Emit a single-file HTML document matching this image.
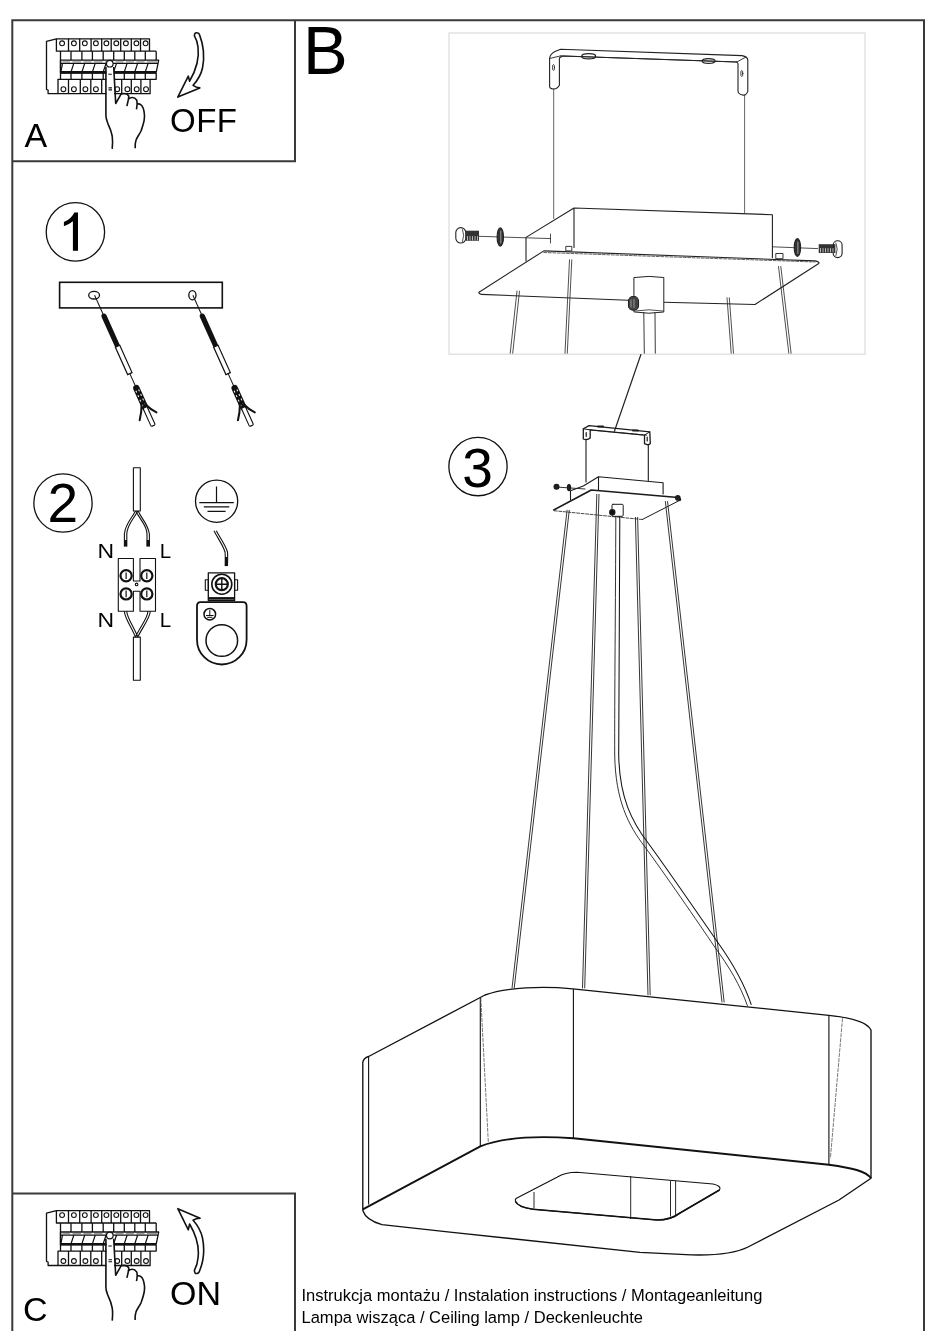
<!DOCTYPE html>
<html><head><meta charset="utf-8">
<style>
html,body{margin:0;padding:0;background:#fff;width:940px;height:1331px;overflow:hidden}
svg{display:block;will-change:transform}
text{font-family:"Liberation Sans",sans-serif;fill:#000}
</style></head><body>
<svg width="940" height="1331" viewBox="0 0 940 1331">
<g id="frame" fill="none" stroke="#3a3a3a" stroke-width="2">
<path d="M12.3 1331V20.2H924V1331"/>
<path d="M12.3 161.2H295V20.2"/>
<path d="M12.3 1193.5H295V1331"/>
</g>
<!-- inset box -->
<rect x="449" y="33" width="416" height="321.2" fill="none" stroke="#e0e0e0" stroke-width="1.4"/>
<g fill="none" stroke="#222" stroke-width="1.1" stroke-linejoin="round" stroke-linecap="round">
<!-- bracket top -->
<path d="M553.7 89V218.5M744.6 95V212.9" stroke="#555" stroke-width="0.9"/>
<path d="M549.6 86.5V58.5Q550 54 555 51.5L560.6 49.3L742 55.6Q747.8 57 747.8 60V91.4Q746 96 742.5 95Q738 94 738 91V63.5L736.8 62L562.5 56L559.4 58V85.3Q557 89.5 553 89Q549.6 88.5 549.6 86.5Z"/>
<path d="M560.6 55.9L736.8 62M549.6 58.5L560.6 55.9M736.8 62L746 57" stroke-width="0.9"/>
<ellipse cx="553.5" cy="67.5" rx="1" ry="3" stroke-width="0.9"/>
<ellipse cx="741.8" cy="73.5" rx="1" ry="3" stroke-width="0.9"/>
<ellipse cx="588.7" cy="56.3" rx="7" ry="2.6" stroke-width="1.2"/>
<ellipse cx="708.6" cy="61" rx="6.5" ry="2.4" stroke-width="1.2"/>
<!-- box -->
<path d="M526 260.9V237.4L574 208L772.4 214.7V257.6M574 208V247.5"/>
<!-- plate -->
<path d="M479 292.2L543.8 250.9L815.3 260.9Q821 262.5 818 264L755 304.5L663.4 302.2M634.3 300.5L481.3 294.4Q478 293 479 292.2" stroke-width="1.1"/>
<path d="M543.8 252.5L815 262" stroke-width="0.7" stroke-dasharray="3 1.5"/>
<!-- screws & line -->
<path d="M479 236.3L550.5 238.6M550.5 234V243M772.4 246.8L817.6 248.6" stroke-width="0.8"/>
<rect x="455.8" y="227.6" width="10" height="15.4" rx="5" stroke-width="1.1"/>
<rect x="465.6" y="230.7" width="13.4" height="10.1" fill="#333" stroke="none"/>
<ellipse cx="500.3" cy="236.9" rx="3.2" ry="9.2" fill="#333" stroke="#222"/>
<ellipse cx="797.4" cy="247.5" rx="3.2" ry="8.9" fill="#333" stroke="#222"/>
<rect x="818.7" y="244.2" width="16.7" height="8.8" fill="#333" stroke="none"/>
<rect x="833.2" y="240.8" width="8.9" height="16.8" rx="4.4" stroke-width="1.1"/>
<path d="M467.5 236.5v3.5M470 236.5v3.5M472.5 236.5v3.5M475 236.5v3.5M477.5 236.5v3.5M820.5 248.5v3.5M823 248.5v3.5M825.5 248.5v3.5M828 248.5v3.5M830.5 248.5v3.5M833 248.5v3.5" stroke="#ddd" stroke-width="0.8"/>
<path d="M500.8 231V243M797.9 242V253.5" stroke="#aaa" stroke-width="0.9"/>
<path d="M462.5 229.5Q465 235 462.5 241.5M836 243Q838.5 249 836 255.5" stroke-width="0.8"/>
<rect x="566.2" y="246.4" width="5.6" height="4.5" stroke-width="0.9"/>
<rect x="776.2" y="253.5" width="6.8" height="5.2" stroke-width="0.9"/>
<!-- wires inside inset -->
<path d="M517 291L510.2 353.2M519.5 291.2L512.7 353.2M569.5 259.8L565 353.2M571.8 259.8L567.3 353.2M727 297.8L731.2 353.2M729.3 297.8L733.5 353.2M778.5 266.5L788.8 353.2M780.8 266.5L791.1 353.2" stroke-width="0.8"/>
<!-- cylinder -->
<path d="M634.3 277.5Q649 275.3 663.8 277.5V312Q649 314.5 634.3 312Z" fill="#fff" stroke-width="1"/><path d="M635 311Q649 308.5 663 311" stroke-width="0.8"/>
<path d="M643.8 312.5L644.3 353.2M655 312.5L655.3 353.2" stroke-width="0.9"/>
<rect x="628.5" y="296.5" width="10" height="13.8" rx="4.5" fill="#444" stroke="#222"/><path d="M631 300V307M634 299.5V307.5" stroke="#bbb" stroke-width="0.7"/>
<!-- connector line -->
<path d="M640.9 354.5L614.5 431" stroke-width="1.2"/>
</g>
<g fill="none" stroke="#1a1a1a" stroke-width="1.2" stroke-linejoin="round" stroke-linecap="round">
<!-- canopy bracket -->
<path d="M583.3 439V428.8L589.1 425.6L649.8 431.8L650.3 443.7Q648.5 445.8 644.5 443.7V435.2L590.2 429.9V438Q587.5 440.5 583.3 439Z" stroke-width="1.3"/>
<path d="M583.3 428.8L590.2 429.9M644.5 435.2L649.8 431.8" stroke-width="1"/>
<path d="M590.2 429.9L646.6 435.2" stroke-width="0.8" stroke-dasharray="3 1.5"/>
<path d="M586.2 432.5V436.3M647.2 437V441" stroke-width="1.2"/>
<path d="M586 439V482M648.3 445V480.4" stroke-width="1.1"/>
<path d="M598 426.5h5M633 430.5h5" stroke-width="2"/>
<!-- canopy box -->
<path d="M570.5 499.5V490.7L583.3 486L598.5 476.7L663.1 482.8V494M598.5 476.7V490" stroke-width="1.1"/>
<!-- canopy plate -->
<path d="M553.8 509.9L591.3 490L678 497.5Q681.5 499 679.8 500.3" stroke-width="1.7"/><path d="M679.8 500.3L642.3 519.5" stroke-width="1"/>
<path d="M642.3 519.5L553.8 510.7" stroke-width="0.8" stroke-dasharray="3 1.5"/>
<path d="M556 487L585 489" stroke-width="0.9"/>
<circle cx="556.5" cy="486.8" r="2.4" fill="#222"/>
<ellipse cx="569" cy="487.6" rx="1.6" ry="3" fill="#222"/>
<circle cx="677.8" cy="497.9" r="2.2" fill="#222"/>
<rect x="612" y="504.3" width="11.2" height="12" rx="1" stroke-width="1"/>
<circle cx="612.3" cy="512.3" r="2.6" fill="#111"/>
</g>
<!-- wires -->
<g fill="none" stroke="#2a2a2a" stroke-width="0.95">
<path d="M567.1 509.9L512 988.3M569.3 510L514.2 988.3"/>
<path d="M596.8 494L582.5 988.3M599 494L584.7 988.3"/>
<path d="M635.4 517L648 995.3M637.6 517L650.2 995.3"/>
<path d="M665.3 501.1L722 1002.4M667.5 501.1L724.2 1002.4"/>
<path d="M615.8 516.3C615.6 600 614.5 700 614.7 755C615.5 800 628 825 645 847C662 870 700 925 714 946C730 968 740 985 747.5 1005.9"/>
<path d="M619.8 516.3C619.6 600 618.5 700 618.7 755C619.5 798 632 822 648.5 843.5C665 866 703 921 717.5 942C734 965 744 983 751.3 1004.8" stroke="#111" stroke-width="1.05"/>
</g>
<!-- shade -->
<g fill="#fff" stroke="#111" stroke-width="1.35" stroke-linejoin="round">
<path d="M362.8 1209.8V1062.3Q363.5 1058 368.6 1056.5L485 995C507 987.2 543 986 572.8 988.9L828.9 1015.3C850 1017.5 867 1022 871 1030V1178.3L839 1200L748 1247Q730 1256 691 1254.9L640 1252.3L450 1232.1L381.9 1224.7Q366 1220 363 1211Z" fill="#fff"/>
<path d="M362.8 1209.3L480.3 1146.3C502 1138 535 1135.5 573.4 1138.3L828.9 1164.7C852 1168 866 1171 871 1178.3" fill="none" stroke-width="1.9"/>
<path d="M368.6 1056.5V1204.5M480.3 998V1146M573.4 988.9V1138.3M828.9 1015.3V1164.7" fill="none" stroke-width="1.1"/>
<path d="M480.8 998L488.3 1142M842.5 1018.3L830.4 1158.3" fill="none" stroke-width="0.8" stroke="#555" stroke-dasharray="4 1"/>
<!-- hole -->
<path d="M516 1198.5L557 1177.3Q565 1172.3 577 1172.3L713 1184Q722 1186 719.5 1190L680 1213Q671 1220 657 1220L533 1209.3Q518 1207 515.5 1201.5Q515 1199.5 516 1198.5Z" stroke-width="1.1"/>
<path d="M515.5 1201.5Q518 1207 533 1209.3L657 1220Q671 1220 680 1213L719.5 1190" fill="none" stroke-width="1.6"/>
<path d="M534 1192V1209M630.7 1176V1219M670.5 1181V1216.5M675.6 1181V1216" fill="none" stroke-width="0.9"/>
</g>

<!-- ===== breaker + hand (A) ===== -->
<g id="brk" fill="none" stroke="#111" stroke-width="1.3" stroke-linejoin="round">
<path d="M56.4 38.8L46.5 41.3V89.5L48.1 90.2V93.7H150.1V79.3M58 93.7V79.3H156.2V73H60.5V51.2H156.2M56.4 38.8H149.5V51.2H56.4Z"/>
<path d="M68.5 38.8V51.2M79.7 38.8V51.2M91.1 38.8V51.2M101.7 38.8V51.2M111.2 38.8V51.2M120.7 38.8V51.2M131.3 38.8V51.2M140.5 38.8V51.2"/>
<path d="M71 51.2V60.2M81.9 51.2V60.2M92.4 51.2V60.2M103.2 51.2V60.2M113.7 51.2V60.2M124.3 51.2V60.2M134.8 51.2V60.2M145.3 51.2V60.2M156.2 51.2V60.2"/>
<path d="M60.5 60.2H158.7L156.2 72.3M60.5 60.2V79.3"/>
<path d="M60.5 72.3H156.2" stroke-width="2.4"/>
<path d="M62.5 61.9H70M72.5 61.9H81M83.5 61.9H91.5M94 61.9H102.5M105 61.9H113M115.5 61.9H123.5M126 61.9H134M136.5 61.9H144.5M147 61.9H157" stroke="#999" stroke-width="1.2"/>
<path d="M61 63.4H158M61 71.5L62.5 63.4M71 72L73.8 63.4M81.9 72L84.7 63.4M92.4 72L95.2 63.4M103.2 72L106 63.4M113.7 72L116.5 63.4M124.3 72L127.1 63.4M134.8 72L137.6 63.4M145.3 72L148.1 63.4" stroke-width="1.2"/>
<path d="M71 73V79.3M81.9 73V79.3M92.4 73V79.3M103.2 73V79.3M113.7 73V79.3M124.3 73V79.3M134.8 73V79.3M145.3 73V79.3"/>
<path d="M68.5 79.3V93.7M80.3 79.3V93.7M90.8 79.3V93.7M101.7 79.3V93.7M121.7 79.3V93.7M131.3 79.3V93.7M140.9 79.3V93.7"/>
<g stroke-width="1.1">
<circle cx="62.1" cy="43.3" r="2.4"/><circle cx="73.9" cy="43.3" r="2.4"/><circle cx="84.8" cy="43.3" r="2.4"/><circle cx="95.9" cy="43.3" r="2.4"/><circle cx="106.4" cy="43.3" r="2.4"/><circle cx="116.3" cy="43.3" r="2.4"/><circle cx="125.9" cy="43.3" r="2.4"/><circle cx="136.4" cy="43.3" r="2.4"/><circle cx="145.6" cy="43.3" r="2.4"/>
<circle cx="63.4" cy="89.2" r="2.4"/><circle cx="73.9" cy="89.2" r="2.4"/><circle cx="85.4" cy="89.2" r="2.4"/><circle cx="95.9" cy="89.2" r="2.4"/><circle cx="117.2" cy="89.2" r="2.4"/><circle cx="127.4" cy="89.2" r="2.4"/><circle cx="136.7" cy="89.2" r="2.4"/><circle cx="146" cy="89.2" r="2.4"/>
</g>
<!-- finger -->
<rect x="106.4" y="64" width="7.6" height="40" fill="#fff" stroke="none"/>
<path d="M105.9 67V115.6C106 119 107 121 107.8 123.3C110 128 111.5 132 112.2 136C112.8 140 112.6 145 112.2 148.8" stroke-width="1.6"/>
<path d="M113.7 67L115.7 103.5L121.2 93.9C123 93.5 127 92.8 128.8 96.2C128.5 100 127.5 103.5 126.9 106.1M128.8 99C130 97.5 134 96 136.8 100.3C137.5 103 137 107 136.5 109.3M137.4 104.1C139 103.5 143 104 144.1 111.8C144.8 115 144.6 118 144.1 120.7C143 126 142 128 141 131C139 135 136.5 138 135.9 140.5C135.2 143 135 146 135.2 148.2" stroke-width="1.6"/>
<circle cx="109.8" cy="63.7" r="3.3" fill="#fff" stroke-width="1.2"/>
<path d="M108.3 74.2H111.8M108.5 87.9H112M108.5 89.9H112" stroke-width="1.1"/>
</g>
<path d="M194.4 35.9Q194.5 32.3 197 32.8Q199 33 199.5 34.6C203.5 45 204.5 58 202.5 68C201 75 197 81 193.1 85.3Q196 87.5 199.8 87.9L177.8 97.1L188.3 76.1L189.6 81.2C196 70 199.5 58 198 47C197.5 42 196 38.5 194.4 35.9Z" fill="none" stroke="#111" stroke-width="1.6" stroke-linejoin="round"/>
<use href="#brk" transform="translate(0 1171.8)"/>
<path d="M194.4 1270.3Q194.5 1274 197 1273.5Q199 1273.3 199.8 1270.3C203.5 1261 204.5 1248 202.5 1238C201 1231 197 1224.5 193.1 1220.2Q196 1218.5 200.1 1218.3L177.8 1208.7L188.3 1229.8L189.6 1224C196 1235 199.5 1247 198 1258C197.5 1264 196 1267.5 194.4 1270.3Z" fill="none" stroke="#111" stroke-width="1.6" stroke-linejoin="round"/>

<!-- ===== section 1 ===== -->
<g fill="none" stroke="#111" stroke-width="1.3">
<circle cx="75.4" cy="231.9" r="29.2"/>
<circle cx="63" cy="503" r="29.15"/>
<circle cx="478" cy="466.6" r="29.15"/>
<rect x="59.6" y="282.3" width="162.7" height="25.6" stroke-width="1.6"/>
<ellipse cx="94.1" cy="295.2" rx="5.4" ry="3.8"/>
<ellipse cx="192.4" cy="295.2" rx="3.6" ry="4.6"/>
</g>
<g id="anc1" transform="translate(94.6 295.2) rotate(65.8)" fill="none" stroke="#111">
<path d="M0 0H23" stroke-width="1"/>
<path d="M23 0H56" stroke-width="5.2" stroke-linecap="round"/>
<rect x="56" y="-2.4" width="30" height="4.8" fill="#fff" stroke-width="1.2"/>
<path d="M86 0H102" stroke-width="1"/>
<path d="M102 0H123" stroke-width="6.5" stroke-linecap="round"/>
<path d="M104 -1.5h2m3 0h2m3 0h2m3 0h2M104 1.5h2m3 0h2m3 0h2m3 0h2" stroke="#fff" stroke-width="1"/>
<rect x="123" y="-2.2" width="20" height="4.4" rx="1" fill="#fff" stroke-width="1.1"/>
<path d="M118 1.5Q126 5 132.6 10.2M120 -1.5Q127 -4 132.3 -8.4" stroke-width="2" stroke-linecap="round"/>
</g>
<use href="#anc1" transform="translate(98.3 0)"/>

<path d="M72.9 250.7V221.3Q69 224.6 63.9 226.3V222Q71.5 218.8 74.3 212.4H78V250.7Z" fill="#000"/>
<text x="47.5" y="521.8" font-size="55" style="font-family:'Liberation Sans';fill:#000">2</text>
<text x="462.3" y="486.6" font-size="55" style="font-family:'Liberation Sans';fill:#000">3</text>

<!-- ===== section 2 ===== -->
<g fill="none" stroke="#111" stroke-width="1.1" stroke-linejoin="round">
<rect x="133.4" y="467.8" width="6.9" height="43.2"/>
<rect x="133.4" y="637.1" width="6.9" height="43.2"/>
<path d="M135.5 511C132 518 125 524 124.4 534V546.4M137.8 511C133 520 127 525 126.8 534V546.4"/>
<path d="M138.2 511C141 518 148 524 149.4 534V546.4M135.8 511C140 520 147 525 147 534V546.4"/>
<path d="M125.6 540V546.4M148.2 540V546.4" stroke-width="2.8"/>
<path d="M124.4 611.2C124.5 618 132 628 135.5 637.1M126.8 611.2C127 618 134 627 137.8 637.1M150.3 611.2C150 618 142 628 137.8 637.1M147.9 611.2C147.8 618 140 627 135.5 637.1"/>
<path d="M118.3 558.5H133.4V581H140V558.5H155.5V611.2H140V591.3H133.4V611.2H118.3Z"/>
<circle cx="136.6" cy="584.4" r="1.3"/>
<g stroke-width="2.2"><circle cx="126.1" cy="575.8" r="5.6"/><circle cx="146.8" cy="575.8" r="5.6"/><circle cx="126.1" cy="593.9" r="5.6"/><circle cx="146.8" cy="593.9" r="5.6"/></g>
<path d="M126.1 572.5V579M146.8 572.5V579M126.1 590.6V597.2M146.8 590.6V597.2" stroke-width="1.2"/>
<!-- ground -->
<circle cx="216.6" cy="501.2" r="21.1" stroke-width="1.3"/>
<path d="M216.5 486.5V502.7M199.3 502.7H233.8M203.8 506.8H229.3M207.5 511.3H225.6" stroke-width="1.2"/>
<path d="M214 530.8C217 537 223 545 225 552C225.5 556 225.2 560 225.2 566.1M216.3 530.8C219.5 537 225.5 545 227.5 552C228 556 227.5 560 227.5 566.1"/>
<path d="M226.3 557V566.1" stroke-width="2.6"/>
<rect x="208.3" y="572.9" width="26.3" height="27.8" stroke-width="1.3"/>
<rect x="205.3" y="579.7" width="3" height="10.5"/><rect x="234.6" y="579.7" width="3" height="10.5"/>
<circle cx="221.8" cy="584.2" r="10" stroke-width="1.6"/>
<circle cx="221.8" cy="584.2" r="6" stroke-width="2.2"/>
<path d="M221.8 578V590.4M215.6 584.2H228" stroke-width="1.4"/>
<path d="M208.3 598.4H234.6" stroke-width="2.6"/>
<path d="M197 606Q197 602.2 200.5 602.2H243Q246.6 602.2 246.6 606V639.7A24.8 24.8 0 0 1 197 639.7Z" stroke-width="1.8"/>
<circle cx="221.8" cy="640.5" r="15.8" stroke-width="1.5"/>
<circle cx="209.8" cy="614.2" r="5.8" stroke-width="1.5"/>
<path d="M209.8 610V615.5M206 615.5H213.6M207.2 617.3H212.4" stroke-width="1"/>
</g>
<g style="font-family:'Liberation Sans';fill:#000" font-size="19.3">
<text transform="translate(97.6 558) scale(1.12 1)" font-size="20.5">N</text><text x="159.8" y="558" font-size="20.5">L</text>
<text transform="translate(97.6 627) scale(1.12 1)" font-size="20.5">N</text><text x="159.8" y="627" font-size="20.5">L</text>
</g>

<text x="24.5" y="147" font-size="34">A</text>
<text x="170" y="132" font-size="33" textLength="67" lengthAdjust="spacing">OFF</text>
<text transform="translate(303 74) scale(1 1.028)" font-size="67">B</text>
<text x="23" y="1320.5" font-size="34">C</text>
<text x="170" y="1305" font-size="34">ON</text>
<text x="301.5" y="1300.6" font-size="16.52">Instrukcja montażu / Instalation instructions / Montageanleitung</text>
<text x="301.5" y="1322.6" font-size="16.52">Lampa wisząca / Ceiling lamp / Deckenleuchte</text>
</svg>
</body></html>
